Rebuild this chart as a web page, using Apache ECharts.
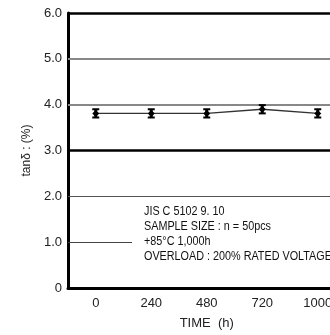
<!DOCTYPE html>
<html>
<head>
<meta charset="utf-8">
<script src="https://cdn.jsdelivr.net/npm/echarts@6/dist/echarts.min.js"></script>
<style>html,body{margin:0;padding:0;background:#fff}#c{width:330px;height:335px}</style>
</head>
<body>
<div id="c"></div>
<script>
var categories = ['0', '240', '480', '720', '1000'];
var tanDelta = [3.81, 3.81, 3.81, 3.90, 3.81];
var errLow = [3.72, 3.72, 3.72, 3.81, 3.72];
var errHigh = [3.90, 3.90, 3.90, 3.99, 3.90];
var yTicks = [0, 1, 2, 3, 4, 5, 6];
var gridValues = [6, 5, 4, 3, 2, 1];
var gridColors = ['#000', '#888', '#888', '#000', '#555', '#444'];
var gridWidths = [2.5, 2, 2, 2.5, 1.2, 1];
var noteLines = ['JIS C 5102 9. 10', 'SAMPLE SIZE : n = 50pcs', '+85\u00b0C 1,000h', 'OVERLOAD : 200% RATED VOLTAGE'];

var chart = echarts.init(document.getElementById('c'), null, {renderer: 'canvas'});
var errData = categories.map(function (c, i) { return [i, errLow[i], errHigh[i]]; });
var markData = gridValues.map(function (v, i) {
  return {yAxis: v, lineStyle: {color: gridColors[i], width: gridWidths[i], type: 'solid'}};
});

chart.setOption({
  animation: false,
  backgroundColor: '#fff',
  graphic: [
    {type: 'rect', left: 132, top: 203, z: 100, shape: {width: 200, height: 67}, style: {fill: '#fff'}},
    {type: 'text', x: 144, y: 204, z: 101, scaleX: 0.9,
     style: {text: noteLines.join('\n'), font: '12px "Liberation Sans", Arial, sans-serif', fill: '#111', lineHeight: 15}}
  ],
  grid: {left: 68, top: 13, width: 277.5, bottom: 47, outerBoundsMode: 'none', containLabel: false},
  xAxis: {
    type: 'category',
    data: categories,
    boundaryGap: true,
    name: 'TIME  (h)',
    nameLocation: 'middle',
    nameGap: 29,
    nameTextStyle: {fontFamily: 'Liberation Sans, Arial, sans-serif', fontSize: 13, color: '#222'},
    axisLine: {lineStyle: {color: '#000', width: 3}},
    axisTick: {show: false},
    axisLabel: {fontFamily: 'Liberation Sans, Arial, sans-serif', fontSize: 13, color: '#222', margin: 9, hideOverlap: false}
  },
  yAxis: {
    type: 'value',
    min: 0, max: 6, interval: 1,
    name: 'tan\u03b4 : (%)',
    nameLocation: 'middle',
    nameGap: 34,
    nameTextStyle: {fontFamily: 'Liberation Sans, Arial, sans-serif', fontSize: 12, color: '#222'},
    axisLine: {show: true, lineStyle: {color: '#000', width: 3}},
    axisTick: {show: false},
    splitLine: {show: false},
    axisLabel: {
      fontFamily: 'Liberation Sans, Arial, sans-serif', fontSize: 13, color: '#222', margin: 6,
      formatter: function (v) { return yTicks.indexOf(v) >= 0 ? (v === 0 ? '0' : v.toFixed(1)) : ''; }
    }
  },
  series: [
    {
      type: 'line',
      data: tanDelta,
      symbol: 'diamond',
      symbolSize: 7,
      itemStyle: {color: '#000'},
      lineStyle: {color: '#333', width: 1.3},
      z: 4,
      markLine: {
        silent: true,
        symbol: 'none',
        label: {show: false},
        animation: false,
        data: markData
      }
    },
    {
      type: 'custom',
      data: errData,
      z: 5,
      renderItem: function (params, api) {
        var x = api.value(0);
        var lo = api.coord([x, api.value(1)]);
        var hi = api.coord([x, api.value(2)]);
        var hw = 3.5;
        var st = {stroke: '#000', lineWidth: 2};
        return {
          type: 'group',
          children: [
            {type: 'line', shape: {x1: lo[0], y1: lo[1], x2: hi[0], y2: hi[1]}, style: {stroke: '#000', lineWidth: 3}},
            {type: 'line', shape: {x1: lo[0] - hw, y1: lo[1], x2: lo[0] + hw, y2: lo[1]}, style: st},
            {type: 'line', shape: {x1: hi[0] - hw, y1: hi[1], x2: hi[0] + hw, y2: hi[1]}, style: st}
          ]
        };
      }
    }
  ]
});
</script>
</body>
</html>
